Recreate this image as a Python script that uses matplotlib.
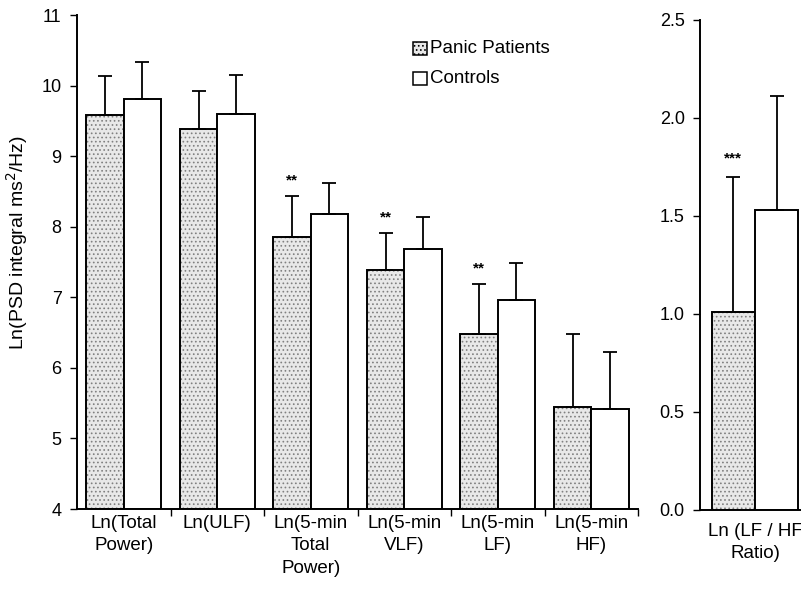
import numpy as np
import matplotlib
matplotlib.use("Agg")
import matplotlib.pyplot as plt

plt.rcParams['font.family'] = ['Liberation Sans', 'DejaVu Sans']
plt.rcParams['hatch.linewidth'] = 0.7

# Left panel data
categories = ["Ln(Total\nPower)", "Ln(ULF)", "Ln(5-min\nTotal\nPower)",
              "Ln(5-min\nVLF)", "Ln(5-min\nLF)", "Ln(5-min\nHF)"]
panic_mean = [9.58, 9.38, 7.86, 7.38, 6.48, 5.45]
panic_err = [0.55, 0.55, 0.58, 0.53, 0.71, 1.03]
ctrl_mean = [9.81, 9.60, 8.18, 7.69, 6.96, 5.42]
ctrl_err = [0.52, 0.55, 0.44, 0.45, 0.52, 0.81]
stars = ["", "", "**", "**", "**", ""]

# Right panel data
ratio_label = "Ln (LF / HF\nRatio)"
ratio_panic = 1.01
ratio_panic_err = 0.69
ratio_ctrl = 1.53
ratio_ctrl_err = 0.58
ratio_star = "***"

fig = plt.figure(figsize=(8.01, 5.95), dpi=100)
W, H = 801, 595
ax = fig.add_axes([77 / W, 1 - 509 / H, 561 / W, 494 / H])
ax2 = fig.add_axes([700 / W, 1 - 510 / H, 101 / W, 490 / H])

stip = dict(facecolor="#e8e8e8", hatch="....", edgecolor="#808080", linewidth=0)
err_kw = dict(ecolor="black", elinewidth=1.3, capsize=5, capthick=1.3)


def draw_pair(a, x, w, pm, pe, cm, ce, bottom):
    pm = np.asarray(pm); cm = np.asarray(cm)
    # stippled fill for patients
    a.bar(x - w / 2, pm - bottom, w, bottom=bottom, **stip)
    a.bar(x - w / 2, pm - bottom, w, bottom=bottom, fill=False,
          edgecolor="black", linewidth=1.4)
    a.errorbar(x - w / 2, pm, yerr=[np.zeros_like(pm), pe], fmt="none", **err_kw)
    a.bar(x + w / 2, cm - bottom, w, bottom=bottom, facecolor="white",
          edgecolor="black", linewidth=1.4)
    a.errorbar(x + w / 2, cm, yerr=[np.zeros_like(cm), ce], fmt="none", **err_kw)


x = np.arange(len(categories))
draw_pair(ax, x, 0.4, panic_mean, panic_err, ctrl_mean, ctrl_err, 4)
for i, s in enumerate(stars):
    if s:
        ax.text(x[i] - 0.2, panic_mean[i] + panic_err[i] + 0.12, s,
                ha="center", va="bottom", fontsize=11, fontweight="bold")

ax.set_xlim(-0.5, 5.5)
ax.set_ylim(4, 11)
ax.set_yticks(range(4, 12))
ax.set_xticks(np.arange(0.5, 6, 1))
ax.set_xticklabels([])
ax.set_xticks(x, minor=True)
ax.set_xticklabels(categories, minor=True, fontsize=13.5, linespacing=1.4, va="top")
ax.tick_params(axis="x", which="minor", length=0, pad=4.5)
ax.tick_params(axis="x", which="major", length=5, direction="out", width=1)
ax.tick_params(axis="y", length=5, direction="out", labelsize=13, width=1, pad=6)
ax.set_ylabel("Ln(PSD integral ms$^2$/Hz)", fontsize=14)
ax.yaxis.set_label_coords(-0.083, 0.54)
for side in ["top", "right"]:
    ax.spines[side].set_visible(False)
for side in ["left", "bottom"]:
    ax.spines[side].set_linewidth(1.4)

# legend made of small squares
ax.add_patch(plt.Rectangle((0.599, 0.920), 0.025, 0.026, transform=ax.transAxes,
                           facecolor="#e8e8e8", hatch="....", edgecolor="black", linewidth=1.1))
ax.text(0.629, 0.933, "Panic Patients", transform=ax.transAxes, va="center", fontsize=13.5)
ax.add_patch(plt.Rectangle((0.599, 0.859), 0.025, 0.026, transform=ax.transAxes,
                           facecolor="white", edgecolor="black", linewidth=1.1))
ax.text(0.629, 0.872, "Controls", transform=ax.transAxes, va="center", fontsize=13.5)

# Right panel
draw_pair(ax2, np.array([0.0]), 0.43, [ratio_panic], [ratio_panic_err],
          [ratio_ctrl], [ratio_ctrl_err], 0)
ax2.text(-0.215, ratio_panic + ratio_panic_err + 0.06, ratio_star,
         ha="center", va="bottom", fontsize=11, fontweight="bold")
ax2.set_xlim(-0.545, 0.455)
ax2.set_ylim(0, 2.5)
ax2.set_yticks(np.arange(0, 2.6, 0.5))
ax2.yaxis.set_major_formatter(matplotlib.ticker.FormatStrFormatter("%.1f"))
ax2.set_xticks([])
ax2.set_xticks([0.0], minor=True)
ax2.set_xticklabels([ratio_label], minor=True, fontsize=13.5, linespacing=1.4)
ax2.tick_params(axis="x", which="minor", length=0, pad=9.5)
ax2.tick_params(axis="y", length=5, direction="out", labelsize=13, width=1, pad=6)
for side in ["top", "right"]:
    ax2.spines[side].set_visible(False)
for side in ["left", "bottom"]:
    ax2.spines[side].set_linewidth(1.4)

fig.savefig("out.png", dpi=100)
